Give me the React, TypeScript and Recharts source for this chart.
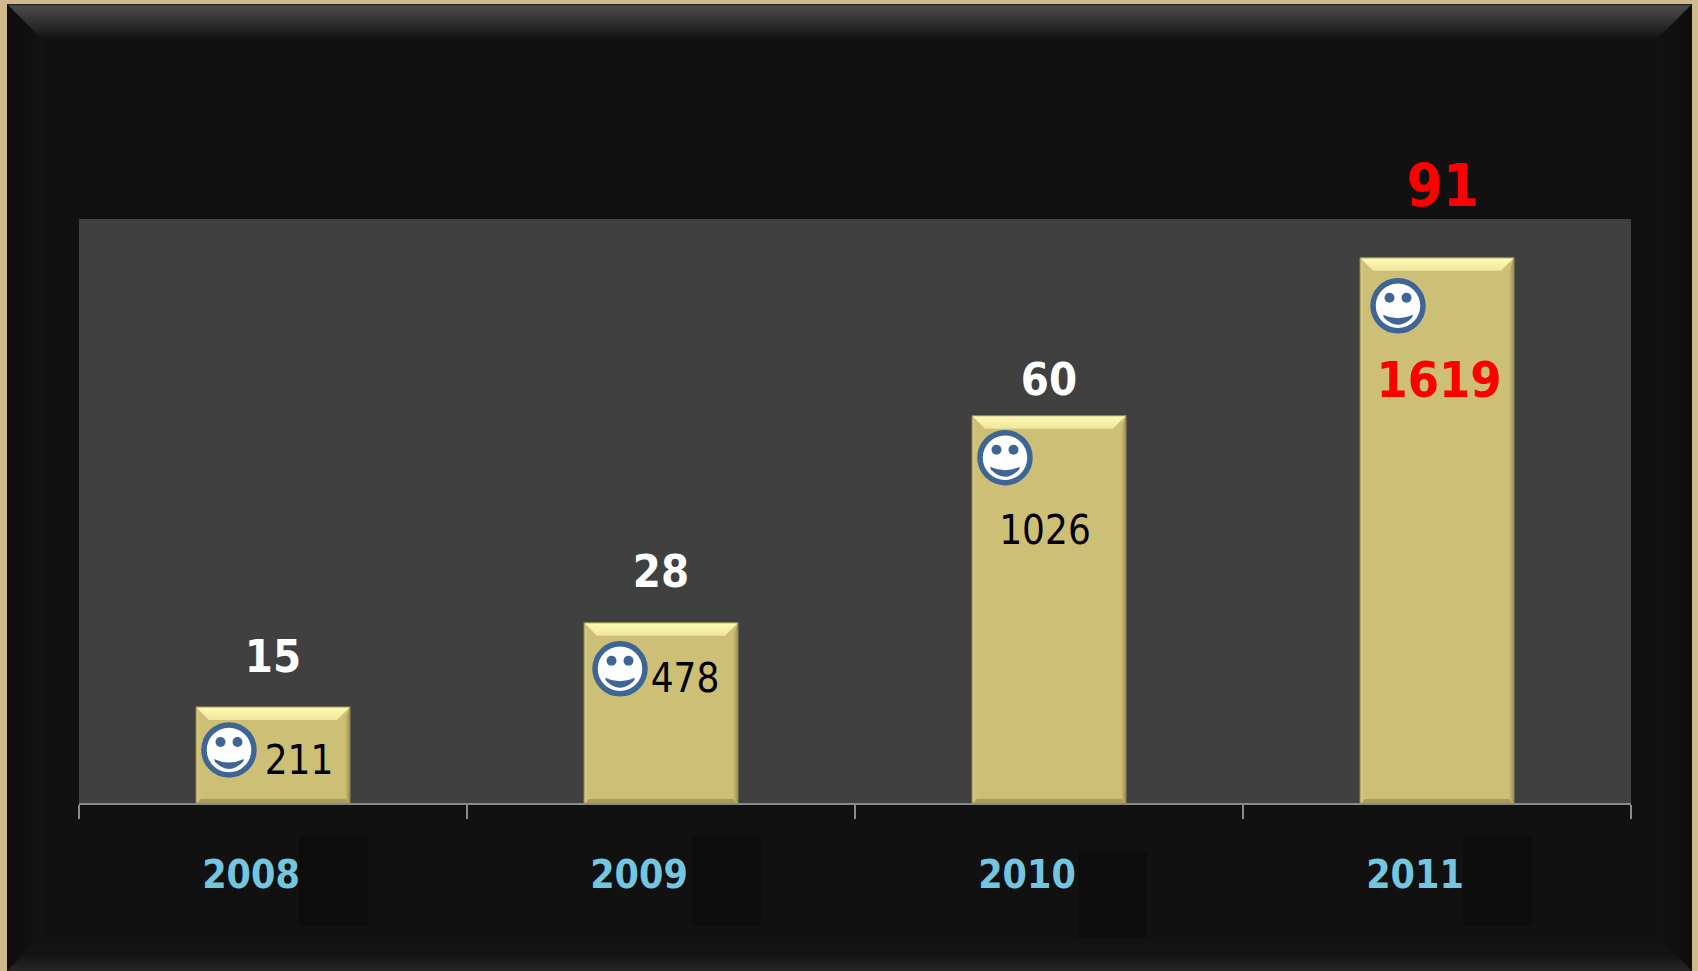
import { BarChart, Bar, XAxis, YAxis, CartesianGrid, LabelList } from "recharts";

const years = ["2008", "2009", "2010", "2011"];
const topLabels = ["15", "28", "60", "91"];
const innerLabels = ["211", "478", "1026", "1619"];
// bar heights; the last bar is drawn lower than its label says
const barValues = [15, 28, 60, 84.4];

const data = years.map((year, i) => ({
  year,
  value: barValues[i],
  top: topLabels[i],
  inner: innerLabels[i],
}));

const WIDTH = 1698;
const HEIGHT = 971;
const FONT = '"DejaVu Sans Condensed", "DejaVu Sans", sans-serif';
const AXIS_GREY = "#8a8a8a";

// offsets from the bar's top centre
const topOffset = [
  [0, -50],
  [0, -51],
  [0, -36],
  [6, -72],
];
const innerOffset = [
  [26, 53],
  [24, 55],
  [-4, 114],
  [2, 122],
];
const smileOffset = [
  [-44, 43],
  [-41, 46],
  [-44, 42],
  [-39, 48],
];
const patches = [
  [299, 835, 91],
  [692, 835, 91],
  [1078, 851, 87],
  [1463, 835, 91],
];

function GoldBar(props: any) {
  const { x, y, width, height } = props;
  const b = 13;
  const s = 5;
  const r = x + width;
  const f = y + height;
  return (
    <g>
      <rect x={x} y={y} width={width} height={height} fill="#cdbf75" />
      <polygon points={`${x},${y} ${r},${y} ${r - b},${y + b} ${x + b},${y + b}`} fill="url(#barTop)" />
      <polygon points={`${x},${y} ${x + s},${y + b} ${x + s},${f - s} ${x},${f}`} fill="url(#barLeft)" />
      <polygon points={`${r},${y} ${r - s},${y + b} ${r - s},${f - s} ${r},${f}`} fill="url(#barRight)" />
      <polygon points={`${x},${f} ${x + s},${f - s} ${r - s},${f - s} ${r},${f}`} fill="#a89c5c" />
      <rect x={x} y={y} width={width} height={height} fill="none" stroke="#8f8650" strokeWidth={1} />
    </g>
  );
}

function TopLabel(props: any) {
  const { x, y, width, index, value } = props;
  const big = index === 3;
  return (
    <text
      x={x + width / 2 + topOffset[index][0]}
      y={y + topOffset[index][1]}
      textAnchor="middle"
      dominantBaseline="central"
      fontFamily={FONT}
      fontWeight={700}
      fontSize={big ? 58 : 45}
      fill={big ? "#ff0000" : "#ffffff"}
    >
      {value}
    </text>
  );
}

function InnerLabel(props: any) {
  const { x, y, width, index, value } = props;
  const big = index === 3;
  return (
    <text
      x={x + width / 2 + innerOffset[index][0]}
      y={y + innerOffset[index][1]}
      textAnchor="middle"
      dominantBaseline="central"
      fontFamily={FONT}
      fontWeight={big ? 700 : 400}
      fontSize={big ? 50 : 40}
      fill={big ? "#ff0000" : "#000000"}
    >
      {value}
    </text>
  );
}

function Smiley(props: any) {
  const { x, y, width, index } = props;
  const cx = x + width / 2 + smileOffset[index][0];
  const cy = y + smileOffset[index][1];
  return (
    <g transform={`translate(${cx},${cy})`}>
      <circle r={25} fill="#ffffff" stroke="#3d6595" strokeWidth={5.5} />
      <circle cx={-8.5} cy={-8} r={5} fill="#3d6595" />
      <circle cx={8.5} cy={-8} r={5} fill="#3d6595" />
      <path d="M-15,9 Q0,16 15,9 L14,12 Q0,26 -14,12 Z" fill="#3d6595" />
    </g>
  );
}

// the reference has its tick marks on the category boundaries, not the centres
function YearTick(props: any) {
  const { x, y, payload, index, width } = props;
  const band = width / years.length;
  const axisY = y - 7;
  return (
    <g>
      <line x1={x - band / 2} x2={x - band / 2} y1={axisY} y2={axisY + 14} stroke={AXIS_GREY} strokeWidth={2} />
      {index === years.length - 1 && (
        <line x1={x + band / 2} x2={x + band / 2} y1={axisY} y2={axisY + 14} stroke={AXIS_GREY} strokeWidth={2} />
      )}
      <text
        x={x - 22}
        y={y + 62}
        textAnchor="middle"
        dominantBaseline="central"
        fontFamily={FONT}
        fontWeight={700}
        fontSize={39}
        fill="#74c5df"
      >
        {payload.value}
      </text>
    </g>
  );
}

function Frame() {
  const l = 7;
  const t = 4;
  const r = 1692;
  const b = HEIGHT;
  const w = 36;
  return (
    <svg width={WIDTH} height={HEIGHT} style={{ position: "absolute", left: 0, top: 0 }}>
      <defs>
        <linearGradient id="frameTop" x1="0" y1="0" x2="0" y2="1">
          <stop offset="0%" stopColor="#1c1c1c" />
          <stop offset="6%" stopColor="#4b4b4b" />
          <stop offset="100%" stopColor="#111111" />
        </linearGradient>
        <linearGradient id="frameLeft" x1="0" y1="0" x2="1" y2="0">
          <stop offset="0%" stopColor="#0d0d0d" />
          <stop offset="100%" stopColor="#131313" />
        </linearGradient>
        <linearGradient id="frameRight" x1="1" y1="0" x2="0" y2="0">
          <stop offset="0%" stopColor="#0d0d0d" />
          <stop offset="100%" stopColor="#131313" />
        </linearGradient>
        <linearGradient id="frameBottom" x1="0" y1="0" x2="0" y2="1">
          <stop offset="0%" stopColor="#111111" />
          <stop offset="55%" stopColor="#141414" />
          <stop offset="100%" stopColor="#262626" />
        </linearGradient>
      </defs>
      <rect width={WIDTH} height={HEIGHT} fill="#cfba8b" />
      <rect x={l} y={t} width={r - l} height={b - t} fill="#111111" />
      <polygon points={`${l},${t} ${l + w},${t + w} ${l + w},${b - w} ${l},${b}`} fill="url(#frameLeft)" />
      <polygon points={`${r},${t} ${r - w},${t + w} ${r - w},${b - w} ${r},${b}`} fill="url(#frameRight)" />
      <polygon points={`${l},${t} ${r},${t} ${r - w},${t + w} ${l + w},${t + w}`} fill="url(#frameTop)" />
      <polygon points={`${l},${b} ${l + w},${b - w} ${r - w},${b - w} ${r},${b}`} fill="url(#frameBottom)" />
      {patches.map(([x, y, h]) => (
        <rect key={x} x={x} y={y} width={69} height={h} fill="#0d0d0d" />
      ))}
    </svg>
  );
}

export default function App() {
  return (
    <div style={{ position: "absolute", left: 0, top: 0, width: WIDTH, height: HEIGHT, overflow: "hidden" }}>
      <Frame />
      <div style={{ position: "absolute", left: 0, top: 0 }}>
        <BarChart
          width={WIDTH}
          height={HEIGHT}
          data={data}
          margin={{ top: 219, right: 67, bottom: 166, left: 79 }}
        >
          <defs>
            <linearGradient id="barTop" x1="0" y1="0" x2="0" y2="1">
              <stop offset="0%" stopColor="#fffcb4" />
              <stop offset="100%" stopColor="#f0e59c" />
            </linearGradient>
            <linearGradient id="barLeft" x1="0" y1="0" x2="1" y2="0">
              <stop offset="0%" stopColor="#d8cb80" />
              <stop offset="100%" stopColor="#cdbf75" />
            </linearGradient>
            <linearGradient id="barRight" x1="1" y1="0" x2="0" y2="0">
              <stop offset="0%" stopColor="#9c9155" />
              <stop offset="100%" stopColor="#cdbf75" />
            </linearGradient>
          </defs>
          <CartesianGrid horizontal={false} vertical={false} fill="#404040" />
          <YAxis hide domain={[0, 90.4]} />
          <Bar dataKey="value" barSize={154} shape={<GoldBar />} isAnimationActive={false}>
            <LabelList dataKey="top" content={<TopLabel />} />
            <LabelList dataKey="inner" content={<InnerLabel />} />
            <LabelList dataKey="year" content={<Smiley />} />
          </Bar>
          <XAxis
            dataKey="year"
            height={1}
            axisLine={{ stroke: AXIS_GREY, strokeWidth: 2 }}
            tickLine={false}
            tick={<YearTick />}
            interval={0}
          />
        </BarChart>
      </div>
    </div>
  );
}
